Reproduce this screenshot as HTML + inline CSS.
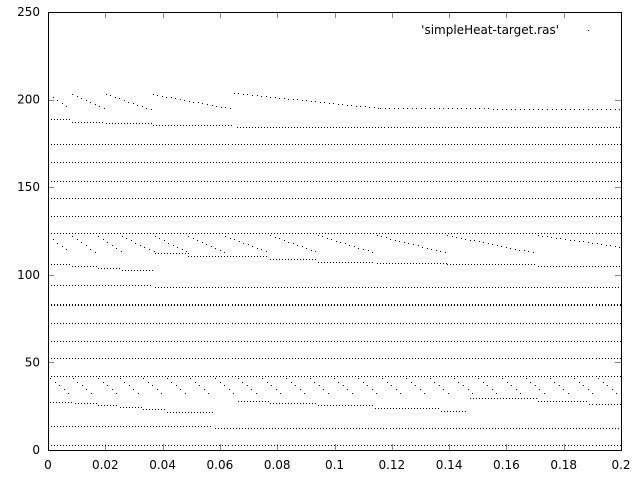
<!DOCTYPE html>
<html><head><meta charset="utf-8"><style>
body{margin:0;background:#fff}
svg{display:block;font-family:"DejaVu Sans","Liberation Sans",sans-serif;font-size:12px}
</style></head><body>
<svg width="640" height="480" viewBox="0 0 640 480" id="chart">
<rect x="0" y="0" width="640" height="480" fill="#fff"/>
<g id="grid-ticks"></g>
<g id="points"></g>
<rect x="48.5" y="12.5" width="573" height="438" fill="none" stroke="#000" stroke-width="1"/>
<g id="labels"></g>
<text x="559" y="34" text-anchor="end" fill="#000">'simpleHeat-target.ras'</text>
<rect x="588" y="30" width="1" height="1" fill="#000"/>
</svg>
<script>
// horizontal runs: start x, end x, value
const hX0=[0,0,.0583,.0007,.0094,.0175,.0251,.0332,.0415,.0663,.0775,.0942,.1141,.137,.1473,.171,.189,0,0,0,0,0,0,0,.0373,0,.0084,.0175,.0258,.0373,.0489,.0775,.0942,.1148,.1393,.171,0,0,0,0,0,0,0,.0084,.0202,.0366,.066];
const hX1=[.2,.0576,.2,.0087,.0171,.0244,.0328,.0408,.0576,.0768,.094,.1134,.1368,.1455,.1707,.1885,.2,.2,.2,.2,.2,.2,.2,.036,.2,.0077,.0171,.0258,.0366,.0489,.0768,.0939,.1134,.1393,.1707,.2,.2,.2,.2,.2,.2,.2,.0077,.0199,.036,.0649,.2];
const hY=[2.9,13.7,12.6,27.4,26.8,25.7,24.5,23.4,21.7,28.0,26.8,25.7,24.0,22.3,29.7,28.0,26.3,42.2,52.5,62.2,72.5,82.8,83.3,94.2,93.0,106.2,105.0,103.9,102.7,112.4,110.7,109.0,107.3,106.7,106.2,105.0,123.9,133.6,143.8,153.5,164.4,174.7,188.9,187.2,186.6,185.5,184.4];
// diagonal runs: start x, end x, start value, end value
const dX0=[.0007,.0087,.0175,.0251,.0332,.0415,.0496,.0583,.0663,.0747,.0831,.0914,.0998,.1082,.1166,.125,.1333,.1417,.1501,.1585,.1668,.1752,.1836,.192,
0,.0084,.0175,.0258,.0373,.0489,.0618,.0775,.0942,.1148,.1393,.171,
0,.0084,.0202,.0366,.0649,.1159];
const dX1=[.008,.016,.0248,.0324,.0405,.0488,.0569,.0656,.0736,.082,.0904,.0987,.1071,.1155,.1239,.1323,.1406,.149,.1574,.1658,.1741,.1825,.1909,.1993,
.0077,.0164,.0258,.0373,.0489,.0618,.0768,.0939,.1134,.1393,.1707,.2,
.0077,.0199,.036,.0649,.1159,.2];
const dY0=[41.1,41.1,41.1,41.1,41.1,41.1,41.1,41.1,41.1,41.1,41.1,41.1,41.1,41.1,41.1,41.1,41.1,41.1,41.1,41.1,41.1,41.1,41.1,41.1,
122.1,122.1,122.1,122.1,122.1,122.1,122.1,122.7,122.7,122.7,122.7,122.7,
203.2,203.2,203.2,203.2,203.8,195.2];
const dY1=[31.4,31.4,31.4,31.4,31.4,31.4,31.4,31.4,31.4,31.4,31.4,31.4,31.4,31.4,31.4,31.4,31.4,31.4,31.4,31.4,31.4,31.4,31.4,31.4,
113.0,113.0,113.0,113.0,113.0,113.0,113.0,113.0,113.0,112.4,112.4,115.9,
194.6,194.6,194.6,194.6,195.2,194.6];
const xTicks=[0,0.02,0.04,0.06,0.08,0.1,0.12,0.14,0.16,0.18,0.2];
const xTickLabels=["0","0.02","0.04","0.06","0.08","0.1","0.12","0.14","0.16","0.18","0.2"];
const yTicks=[0,50,100,150,200,250];
const yTickLabels=["0","50","100","150","200","250"];

const L=48,R=621,T=12,B=450;
function sx(v){return L+(v-0)/(0.2-0)*(R-L);}
function sy(v){return B-(v-0)/(250-0)*(B-T);}
const NS="http://www.w3.org/2000/svg";
const pts=document.getElementById('points');
const tk=document.getElementById('grid-ticks');
const lb=document.getElementById('labels');
const STEP=0.00105;
function dot(x,y){
  const r=document.createElementNS(NS,'rect');
  r.setAttribute('x',Math.round(sx(x)));r.setAttribute('y',Math.round(sy(y)));
  r.setAttribute('width',1);r.setAttribute('height',1);r.setAttribute('fill','#000');
  
  
  pts.appendChild(r);
}
for(let i=0;i<hY.length;i++){
  for(let x=hX0[i];x<=hX1[i]+1e-9;x+=STEP) dot(x,hY[i]);
}
for(let i=0;i<dY0.length;i++){
  const span=dX1[i]-dX0[i];
  for(let x=dX0[i];x<=dX1[i]+1e-9;x+=STEP*1.5){
    const t=span>0?(x-dX0[i])/span:0;
    dot(x,dY0[i]+(dY1[i]-dY0[i])*t);
  }
}
for(let i=0;i<xTicks.length;i++){
  const x=Math.round(sx(xTicks[i]))+0.5;
  const a=document.createElementNS(NS,'line');
  a.setAttribute('x1',x);a.setAttribute('x2',x);a.setAttribute('y1',B);a.setAttribute('y2',B-6);
  a.setAttribute('stroke','#888');
  
  
  tk.appendChild(a);
  const b=document.createElementNS(NS,'line');
  b.setAttribute('x1',x);b.setAttribute('x2',x);b.setAttribute('y1',T);b.setAttribute('y2',T+6);
  b.setAttribute('stroke','#888');
  
  
  tk.appendChild(b);
  const t=document.createElementNS(NS,'text');
  t.setAttribute('x',sx(xTicks[i]));t.setAttribute('y',469);t.setAttribute('text-anchor','middle');
  t.textContent=xTickLabels[i];
  
  
  lb.appendChild(t);
}
for(let i=0;i<yTicks.length;i++){
  const y=Math.round(sy(yTicks[i]))+0.5;
  const a=document.createElementNS(NS,'line');
  a.setAttribute('x1',L);a.setAttribute('x2',L+6);a.setAttribute('y1',y);a.setAttribute('y2',y);
  a.setAttribute('stroke','#888');
  
  
  tk.appendChild(a);
  const b=document.createElementNS(NS,'line');
  b.setAttribute('x1',R-6);b.setAttribute('x2',R);b.setAttribute('y1',y);b.setAttribute('y2',y);
  b.setAttribute('stroke','#888');
  
  
  tk.appendChild(b);
  const t=document.createElementNS(NS,'text');
  t.setAttribute('x',40);t.setAttribute('y',sy(yTicks[i])+4);t.setAttribute('text-anchor','end');
  t.textContent=yTickLabels[i];
  
  
  lb.appendChild(t);
}
</script>
</body></html>
